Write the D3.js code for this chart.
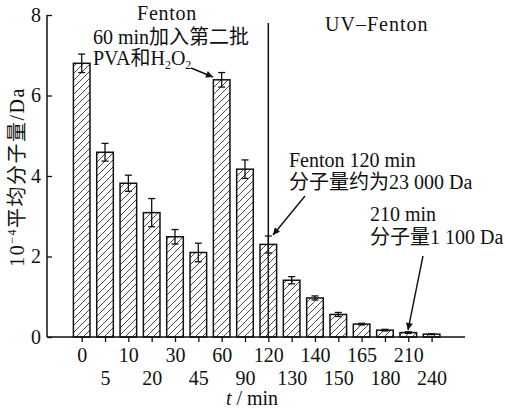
<!DOCTYPE html>
<html><head><meta charset="utf-8">
<script src="https://cdn.jsdelivr.net/npm/d3@7"></script>
<style>
html,body{margin:0;padding:0;background:#fff;}
svg text{font-family:"Liberation Serif","Noto Sans CJK SC",serif;fill:#111;}
</style></head>
<body>
<svg id="chart" width="505" height="413"></svg>
<script>
const categories = ["0","5","10","20","30","45","60","90","120","130","140","150","165","180","210","240"];
const values     = [6.80,4.59,3.82,3.09,2.49,2.10,6.39,4.17,2.30,1.41,0.97,0.56,0.32,0.17,0.11,0.07];
const errors     = [0.23,0.22,0.20,0.35,0.18,0.23,0.18,0.23,0.21,0.09,0.05,0.05,0.02,0.02,0.02,0.01];
const yTicks     = [0,2,4,6,8];

const svg = d3.select("#chart");
const mLeft = 47, mRight = 465, mTop = 15, mBottom = 337;
const x = d3.scalePoint().domain(categories).range([81.7, 431.6]);
const y = d3.scaleLinear().domain([0, 8]).range([mBottom, mTop]);
const barW = 16.6;
const FS = 20;

const defs = svg.append("defs");
defs.append("pattern").attr("id","hatch").attr("patternUnits","userSpaceOnUse")
  .attr("width",7).attr("height",7)
  .append("path").attr("d","M-1,1 l2,-2 M0,7 l7,-7 M6,8 l2,-2")
  .attr("stroke","#333").attr("stroke-width",0.9);
const mk = defs.append("marker").attr("id","arrow").attr("viewBox","0 0 10 10")
  .attr("refX",10).attr("refY",5).attr("markerWidth",9).attr("markerHeight",7)
  .attr("markerUnits","userSpaceOnUse").attr("orient","auto");
mk.append("path").attr("d","M0,0 L10,5 L0,10 z").attr("fill","#111");

// vertical separator at 120 min
svg.append("line").attr("x1",x("120")).attr("x2",x("120")).attr("y1",23).attr("y2",mBottom)
  .attr("stroke","#111").attr("stroke-width",1.5);

// bars
svg.append("g").selectAll("rect").data(categories).join("rect")
  .attr("x", d => x(d) - barW/2)
  .attr("y", (d,i) => y(values[i]))
  .attr("width", barW)
  .attr("height", (d,i) => y(0) - y(values[i]))
  .attr("fill","url(#hatch)").attr("stroke","#111").attr("stroke-width",1.5);

// error bars
const eg = svg.append("g").attr("stroke","#111").attr("stroke-width",1.3);
categories.forEach((c,i) => {
  const cx = x(c), y1 = y(values[i]+errors[i]), y2 = y(values[i]-errors[i]);
  eg.append("line").attr("x1",cx).attr("x2",cx).attr("y1",y1).attr("y2",y2);
  eg.append("line").attr("x1",cx-3.5).attr("x2",cx+3.5).attr("y1",y1).attr("y2",y1);
  eg.append("line").attr("x1",cx-3.5).attr("x2",cx+3.5).attr("y1",y2).attr("y2",y2);
});

// axes
const xAxis = svg.append("g").attr("transform",`translate(0,${mBottom})`)
  .call(d3.axisBottom(x).tickSize(5).tickSizeOuter(0));
xAxis.select(".domain").remove();
svg.append("line").attr("x1",mLeft).attr("x2",mRight).attr("y1",mBottom).attr("y2",mBottom)
  .attr("stroke","#111").attr("stroke-width",1.5);
xAxis.selectAll(".tick line").attr("stroke","#111").attr("stroke-width",1.3);
xAxis.selectAll(".tick text").attr("font-size",FS).attr("font-family",null)
  .attr("y",(d,i)=> i%2===0 ? 11 : 34).attr("dy","0.71em");

const yAxis = svg.append("g").attr("transform",`translate(${mLeft},0)`)
  .call(d3.axisLeft(y).tickValues(yTicks).tickSize(-5).tickSizeOuter(0).tickPadding(6));
yAxis.select(".domain").remove();
svg.append("line").attr("x1",mLeft).attr("x2",mLeft).attr("y1",mTop).attr("y2",mBottom)
  .attr("stroke","#111").attr("stroke-width",1.5);
yAxis.selectAll(".tick line").attr("stroke","#111").attr("stroke-width",1.3);
yAxis.selectAll(".tick text").attr("font-size",FS).attr("font-family",null);

// axis titles
const yl = svg.append("text").attr("transform","translate(24,177) rotate(-90)")
  .attr("text-anchor","middle").attr("font-size",FS).attr("letter-spacing",1.5);
yl.append("tspan").text("10");
yl.append("tspan").attr("font-size",12).attr("dy",-8).text("−4");
yl.append("tspan").attr("dy",8).text("平均分子量/Da");

const xl = svg.append("text").attr("x",252).attr("y",405).attr("text-anchor","middle").attr("font-size",FS);
xl.append("tspan").attr("font-style","italic").text("t");
xl.append("tspan").text(" / min");

// annotations
svg.append("text").attr("x",167).attr("y",20).attr("text-anchor","middle").attr("font-size",FS)
  .attr("letter-spacing",0.7).text("Fenton");
svg.append("text").attr("x",93).attr("y",44).attr("font-size",FS).text("60 min加入第二批");
const pv = svg.append("text").attr("x",93).attr("y",65).attr("font-size",FS);
pv.append("tspan").text("PVA和H");
pv.append("tspan").attr("font-size",12).attr("dy",4).text("2");
pv.append("tspan").attr("dy",-4).text("O");
pv.append("tspan").attr("font-size",12).attr("dy",4).text("2");
svg.append("text").attr("x",325).attr("y",31).attr("font-size",FS)
  .attr("letter-spacing",1).text("UV–Fenton");
svg.append("text").attr("x",289).attr("y",167).attr("font-size",FS).text("Fenton 120 min");
svg.append("text").attr("x",289).attr("y",189).attr("font-size",FS).text("分子量约为23 000 Da");
svg.append("text").attr("x",370).attr("y",221).attr("font-size",FS).text("210 min");
svg.append("text").attr("x",370).attr("y",244).attr("font-size",FS).text("分子量1 100 Da");

const arrows = [[191,68,213,77],[305,196,273,235],[423,256,408,330]];
svg.append("g").selectAll("line").data(arrows).join("line")
  .attr("x1",d=>d[0]).attr("y1",d=>d[1]).attr("x2",d=>d[2]).attr("y2",d=>d[3])
  .attr("stroke","#111").attr("stroke-width",1.4).attr("marker-end","url(#arrow)");
</script>
</body></html>
